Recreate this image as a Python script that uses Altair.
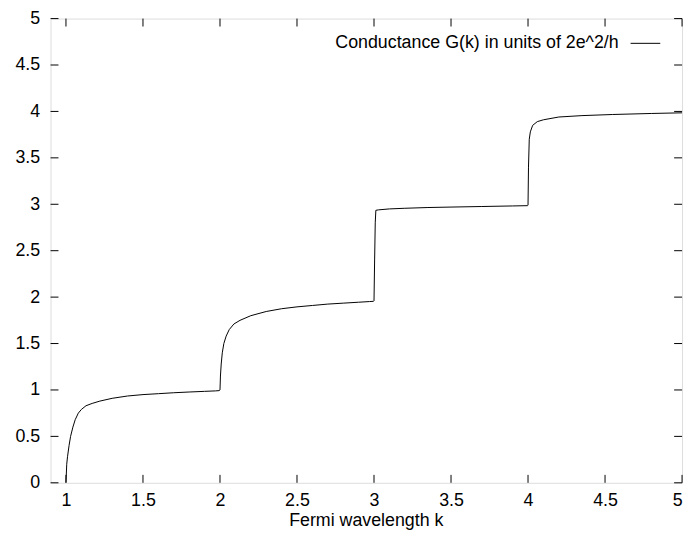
import altair as alt
import pandas as pd

k_vals = [1.000, 1.005, 1.01, 1.02, 1.03, 1.045, 1.06, 1.08, 1.1, 1.13, 1.17, 1.22, 1.3, 1.4, 1.5,
          1.6, 1.7, 1.8, 1.9, 1.97, 1.995,
          2.0, 2.003, 2.008, 2.015, 2.025, 2.04, 2.06, 2.09, 2.13, 2.2, 2.3, 2.4, 2.5, 2.6, 2.7,
          2.8, 2.9, 2.97, 2.997,
          3.0, 3.004, 3.008, 3.012, 3.03, 3.1, 3.2, 3.35, 3.5, 3.7, 3.9, 3.996,
          4.0, 4.003, 4.008, 4.015, 4.03, 4.06, 4.1, 4.2, 4.35, 4.55, 4.8, 5.0]
g_vals = [0.0, 0.2, 0.28, 0.40, 0.50, 0.60, 0.68, 0.75, 0.79, 0.83, 0.855, 0.88, 0.91, 0.935, 0.95,
          0.96, 0.97, 0.978, 0.985, 0.99, 0.993,
          1.0, 1.15, 1.28, 1.40, 1.50, 1.58, 1.65, 1.71, 1.75, 1.80, 1.845, 1.875, 1.895, 1.91, 1.925,
          1.935, 1.945, 1.952, 1.955,
          1.96, 2.4, 2.8, 2.935, 2.94, 2.95, 2.957, 2.965, 2.97, 2.976, 2.982, 2.985,
          2.99, 3.4, 3.7, 3.78, 3.85, 3.89, 3.91, 3.94, 3.955, 3.967, 3.978, 3.985]

x_ticks = [1, 1.5, 2, 2.5, 3, 3.5, 4, 4.5, 5]
y_ticks = [0, 0.5, 1, 1.5, 2, 2.5, 3, 3.5, 4, 4.5, 5]
legend_label = "Conductance G(k) in units of 2e^2/h"
x_title = "Fermi wavelength k"

W, H = 638, 469
TL = 8
FONT = "Liberation Sans"
FS = 18

df = pd.DataFrame({"k": k_vals, "G": g_vals})
xt = pd.DataFrame({"v": x_ticks})
yt = pd.DataFrame({"v": y_ticks})

xscale = alt.Scale(domain=[0.9, 5], nice=False, zero=False)
yscale = alt.Scale(domain=[0, 5], nice=False, zero=False)

line = alt.Chart(df).mark_line(color="black", strokeWidth=1, clip=True).encode(
    x=alt.X("k:Q", scale=xscale,
            axis=alt.Axis(values=x_ticks, format="~g", tickSize=0, domain=False, grid=False,
                          labelFont=FONT, labelFontSize=FS, labelColor="black", labelPadding=9,
                          title=None)),
    y=alt.Y("G:Q", scale=yscale,
            axis=alt.Axis(values=y_ticks, format="~g", tickSize=0, domain=False, grid=False,
                          labelFont=FONT, labelFontSize=FS, labelColor="black", labelPadding=11,
                          title=None)),
)

xb = alt.Chart(xt).mark_rule(color="black", strokeWidth=1).encode(
    x=alt.X("v:Q", scale=xscale), y=alt.value(H), y2=alt.value(H - TL))
xtop = alt.Chart(xt).mark_rule(color="black", strokeWidth=1).encode(
    x=alt.X("v:Q", scale=xscale), y=alt.value(0), y2=alt.value(TL))
yl = alt.Chart(yt).mark_rule(color="black", strokeWidth=1).encode(
    y=alt.Y("v:Q", scale=yscale), x=alt.value(0), x2=alt.value(TL))
yr = alt.Chart(yt).mark_rule(color="black", strokeWidth=1).encode(
    y=alt.Y("v:Q", scale=yscale), x=alt.value(W), x2=alt.value(W - TL))

leg_df = pd.DataFrame({"label": [legend_label]})
leg_text = alt.Chart(leg_df).mark_text(align="right", baseline="middle", font=FONT,
                                       fontSize=FS, color="black").encode(
    text="label:N", x=alt.value(574), y=alt.value(25))
leg_line = alt.Chart(leg_df).mark_rule(color="black", strokeWidth=1).encode(
    x=alt.value(586), x2=alt.value(616), y=alt.value(25))

title_df = pd.DataFrame({"label": [x_title]})
title_text = alt.Chart(title_df).mark_text(align="center", baseline="alphabetic", font=FONT,
                                           fontSize=FS, color="black").encode(
    text="label:N", x=alt.value(W / 2), y=alt.value(513))

chart = alt.layer(line, xb, xtop, yl, yr, leg_text, leg_line, title_text).properties(
    width=W, height=H,
    autosize=alt.AutoSizeParams(type="none"),
    padding={"left": 43, "top": 8, "right": 5, "bottom": 47},
).configure_view(stroke="black", strokeWidth=1).configure(background="white")

chart.save("out.html", embed_options={"renderer": "svg", "actions": False})
